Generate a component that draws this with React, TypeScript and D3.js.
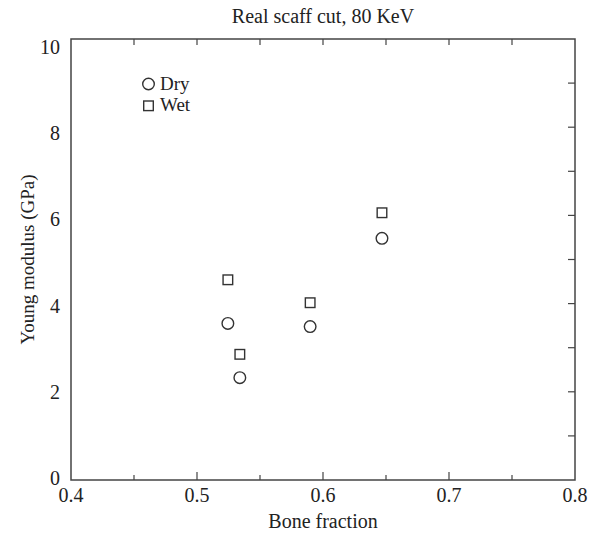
import React from 'react';
import * as d3 from 'd3';

// values
const boneFraction = [0.5245, 0.534, 0.5898, 0.6468];
const dryModulus = [3.55, 2.32, 3.48, 5.48];
const wetModulus = [4.54, 2.85, 4.02, 6.06];
const xTicks = [0.4, 0.5, 0.6, 0.7, 0.8];
const xMinorTicks = [0.45, 0.55, 0.65, 0.75];
const yTicks = [0, 2, 4, 6, 8, 10];
const yRightTicks = [1, 2, 3, 4, 5, 6, 7, 8, 9];
const xTopTicks = [0.45, 0.5, 0.55, 0.6, 0.65, 0.7, 0.75];

const W = 595;
const H = 535;
const margin = { left: 71, right: 20, top: 39, bottom: 55 };
const stroke = '#444';
const font = '"Liberation Serif", "Times New Roman", serif';

const App = () => {
  const x = d3.scaleLinear().domain([0.4, 0.8]).range([margin.left, W - margin.right]);
  const y = d3.scaleLinear().domain([0, 10]).range([H - margin.bottom, margin.top]);
  const [x0, x1] = x.range();
  const [y0, y1] = y.range();

  return (
    <svg width={W} height={H} style={{ position: 'absolute', left: 0, top: 0, background: '#fff' }}>
      <text x={(x0 + x1) / 2} y={23} textAnchor="middle" fontFamily={font} fontSize={20} fill="#222">
        Real scaff cut, 80 KeV
      </text>

      <rect x={x0} y={y1} width={x1 - x0} height={y0 - y1} fill="none" stroke={stroke} strokeWidth={1.5} />

      {xTicks.slice(1, -1).map(t => (
        <line key={'xb' + t} x1={x(t)} x2={x(t)} y1={y0} y2={y0 - 8} stroke={stroke} strokeWidth={1.2} />
      ))}
      {xMinorTicks.map(t => (
        <line key={'xm' + t} x1={x(t)} x2={x(t)} y1={y0} y2={y0 - 5} stroke={stroke} strokeWidth={1.2} />
      ))}
      {xTopTicks.map(t => (
        <line key={'xt' + t} x1={x(t)} x2={x(t)} y1={y1} y2={y1 + 6} stroke={stroke} strokeWidth={1.2} />
      ))}
      {yRightTicks.map(t => (
        <line key={'yr' + t} x1={x1} x2={x1 - 7} y1={y(t)} y2={y(t)} stroke={stroke} strokeWidth={1.2} />
      ))}

      {xTicks.map(t => (
        <text key={'xl' + t} x={x(t)} y={y0 + 22} textAnchor="middle" fontFamily={font} fontSize={20} fill="#222">
          {d3.format('.1f')(t)}
        </text>
      ))}
      {yTicks.map(t => (
        <text key={'yl' + t} x={x0 - 11} y={y(t) + 5 + t} textAnchor="end" fontFamily={font} fontSize={20} fill="#222">
          {t}
        </text>
      ))}

      <text x={(x0 + x1) / 2} y={528} textAnchor="middle" fontFamily={font} fontSize={20} fill="#222">
        Bone fraction
      </text>
      <text
        transform={`translate(34,${(y0 + y1) / 2}) rotate(-90)`}
        textAnchor="middle"
        fontFamily={font}
        fontSize={19}
        fill="#222"
      >
        Young modulus (GPa)
      </text>

      {boneFraction.map((b, i) => (
        <circle key={'d' + i} cx={x(b)} cy={y(dryModulus[i])} r={5.8} fill="none" stroke="#333" strokeWidth={1.4} />
      ))}
      {boneFraction.map((b, i) => (
        <rect key={'w' + i} x={x(b) - 4.8} y={y(wetModulus[i]) - 4.8} width={9.6} height={9.6} fill="none" stroke="#333" strokeWidth={1.4} />
      ))}

      <circle cx={148.5} cy={84} r={5.8} fill="none" stroke="#333" strokeWidth={1.4} />
      <text x={160} y={90} fontFamily={font} fontSize={19} fill="#222">Dry</text>
      <rect x={143.7} y={101} width={9.6} height={9.6} fill="none" stroke="#333" strokeWidth={1.4} />
      <text x={160} y={111} fontFamily={font} fontSize={19} fill="#222">Wet</text>
    </svg>
  );
};

export default App;
